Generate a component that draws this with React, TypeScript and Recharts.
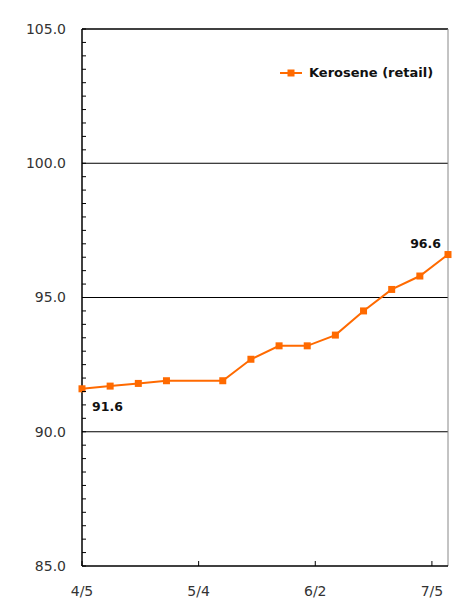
import { LineChart, Line, XAxis, YAxis, ReferenceLine, LabelList } from "recharts"

// days after 4/5, weekly survey (no 5/3 survey)
const days = [0, 7, 14, 21, 35, 42, 49, 56, 63, 70, 77, 84, 91]
const kerosene = [91.6, 91.7, 91.8, 91.9, 91.9, 92.7, 93.2, 93.2, 93.6, 94.5, 95.3, 95.8, 96.6]

const xTicks = [0, 29, 58, 87]
const xTickLabels = ["4/5", "5/4", "6/2", "7/5"]
const yTicks = Array.from({ length: 41 }, (_, i) => 85 + i * 0.5)
const gridValues = [90, 95, 100]

const ORANGE = "#FF6A00"
const FONT = "'DejaVu Sans', sans-serif"

const data = days.map((d, i) => ({ day: d, value: kerosene[i] }))

const YTick = (props: any) => {
  const { x, y, payload } = props
  const axisX = x + 16
  const v = payload.value
  const major = Math.abs(v % 5) < 1e-6
  return (
    <g>
      <line x1={axisX} x2={axisX + 4} y1={y} y2={y} stroke="#000" strokeWidth={1} />
      {major && (
        <text x={x} y={y} dy="0.35em" textAnchor="end" fontSize={14} fill="#333" fontFamily={FONT}>
          {v.toFixed(1)}
        </text>
      )}
    </g>
  )
}

const XTick = (props: any) => {
  const { x, y, payload, index } = props
  const axisY = y - 20
  return (
    <g>
      <line x1={x} x2={x} y1={axisY} y2={axisY - 5} stroke="#000" strokeWidth={1} />
      <text x={x} y={y} dy="0.71em" textAnchor="middle" fontSize={14} fill="#333" fontFamily={FONT}>
        {xTickLabels[index] ?? payload.value}
      </text>
    </g>
  )
}

const SquareDot = (props: any) => {
  const { cx, cy, index } = props
  return <rect key={`dot-${index}`} x={cx - 3.5} y={cy - 3.5} width={7} height={7} fill={ORANGE} />
}

const EndLabel = (props: any) => {
  const { x, y, value, index } = props
  if (index === 0) {
    return (
      <text x={x + 10} y={y + 22} fontSize={12.5} fontWeight="bold" fill="#111" fontFamily={FONT}>
        {value.toFixed(1)}
      </text>
    )
  }
  if (index === kerosene.length - 1) {
    return (
      <text x={x - 7} y={y - 7} textAnchor="end" fontSize={12.5} fontWeight="bold" fill="#111" fontFamily={FONT}>
        {value.toFixed(1)}
      </text>
    )
  }
  return null
}

export default function App() {
  return (
    <div style={{ position: "absolute", left: 0, top: 0, width: 456, height: 598, background: "#fff" }}>
      <LineChart width={456} height={598} data={data} margin={{ top: 29, right: 8, bottom: 0, left: 0 }}>
        <XAxis
          dataKey="day"
          type="number"
          domain={[0, 91]}
          ticks={xTicks}
          interval={0}
          height={32}
          tickSize={0}
          tickMargin={20}
          tick={<XTick />}
          axisLine={{ stroke: "#000", strokeWidth: 1.5 }}
        />
        <YAxis
          type="number"
          domain={[85, 105]}
          ticks={yTicks}
          interval={0}
          width={82}
          tickSize={0}
          tickMargin={16}
          tick={<YTick />}
          axisLine={{ stroke: "#000", strokeWidth: 1.5 }}
        />
        {gridValues.map((g) => (
          <ReferenceLine key={g} y={g} stroke="#000" strokeWidth={1} />
        ))}
        <ReferenceLine y={105} stroke="#000" strokeWidth={1.5} />
        <ReferenceLine x={91} stroke="#888" strokeWidth={1} />
        <Line
          dataKey="value"
          name="Kerosene (retail)"
          stroke={ORANGE}
          strokeWidth={2}
          dot={<SquareDot />}
          activeDot={false}
          isAnimationActive={false}
        >
          <LabelList dataKey="value" content={<EndLabel />} />
        </Line>
      </LineChart>
      <div
        style={{
          position: "absolute",
          top: 66,
          left: 280,
          display: "flex",
          alignItems: "center",
          fontFamily: FONT,
        }}
      >
        <svg width={24} height={10} style={{ marginRight: 5 }}>
          <line x1={0} x2={22} y1={5} y2={5} stroke={ORANGE} strokeWidth={2} />
          <rect x={7.5} y={1.5} width={7} height={7} fill={ORANGE} />
        </svg>
        <span style={{ fontSize: 13, fontWeight: "bold", color: "#111", lineHeight: "14px" }}>
          Kerosene (retail)
        </span>
      </div>
    </div>
  )
}
